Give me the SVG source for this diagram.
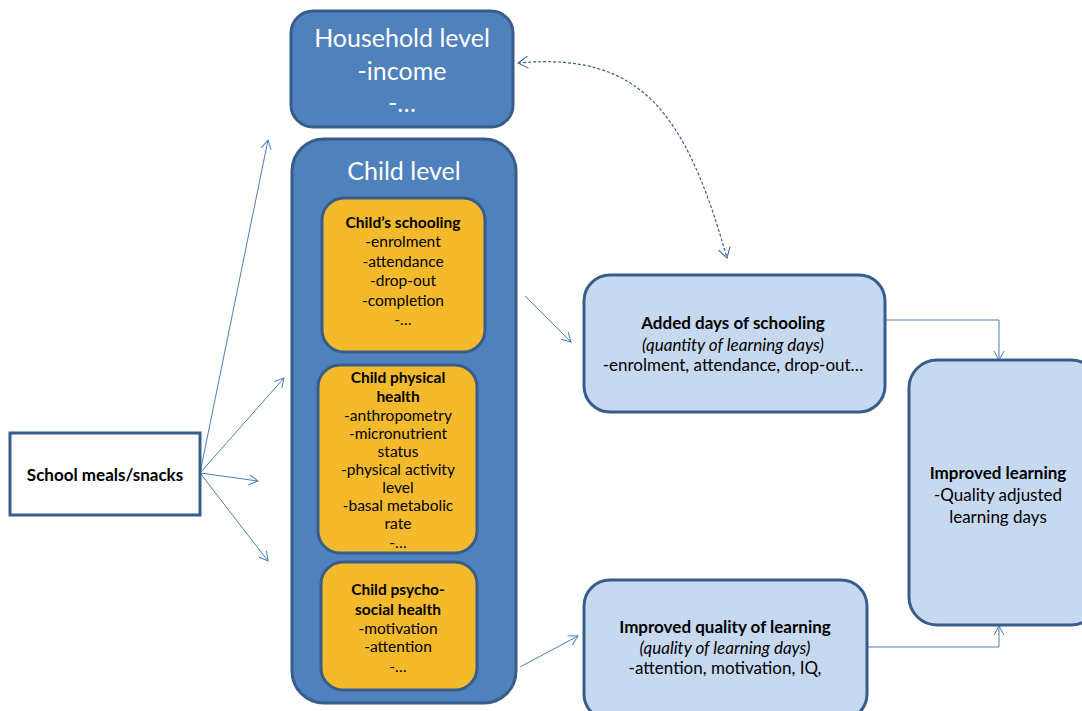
<svg xmlns="http://www.w3.org/2000/svg" width="1082" height="711" viewBox="0 0 1082 711">
<defs>
<marker id="ah" markerWidth="12" markerHeight="12" refX="10" refY="6" orient="auto-start-reverse" markerUnits="userSpaceOnUse">
<path d="M1,1 L10,6 L1,11" fill="none" stroke="#4A7EBB" stroke-width="1"/>
</marker>
<marker id="ahd" markerWidth="14" markerHeight="14" refX="11" refY="7" orient="auto-start-reverse" markerUnits="userSpaceOnUse">
<path d="M1,1 L11,7 L1,13" fill="none" stroke="#385D8A" stroke-width="1"/>
</marker>
<style>
.dark{fill:#4F81BD;stroke:#385D8A;stroke-width:3}
.orange{fill:#F4BA2B;stroke:#385D8A;stroke-width:3}
.light{fill:#C6D9F0;stroke:#385D8A;stroke-width:3}
.white{fill:#FFFFFF;stroke:#385D8A;stroke-width:3}
.conn{fill:none;stroke:#4A7EBB;stroke-width:1}
text{font-family:Lato,"Open Sans","Liberation Sans",sans-serif;text-anchor:middle;fill:#000}
.big{font-size:25px;fill:#FFFFFF}
.sm{font-size:15.5px}
.md{font-size:17px}
.b{font-weight:bold}
.i{font-style:italic}
</style>
</defs>
<g id="connectors">
<line class="conn" x1="200" y1="473" x2="268" y2="140" marker-end="url(#ah)"/>
<line class="conn" x1="200" y1="473" x2="284" y2="378" marker-end="url(#ah)"/>
<line class="conn" x1="200" y1="473" x2="258" y2="481" marker-end="url(#ah)"/>
<line class="conn" x1="200" y1="473" x2="268" y2="561" marker-end="url(#ah)"/>
<line class="conn" x1="525" y1="296" x2="571" y2="342" marker-end="url(#ah)"/>
<line class="conn" x1="520" y1="667" x2="578" y2="636" marker-end="url(#ah)"/>
<polyline class="conn" points="885,320 999,320 999,360" marker-end="url(#ah)"/>
<polyline class="conn" points="867,647 999,647 999,626" marker-end="url(#ah)"/>
<path d="M518,63 C640,52 685,110 727,258" fill="none" stroke="#385D8A" stroke-width="1.2" stroke-dasharray="3,2" marker-start="url(#ahd)" marker-end="url(#ahd)"/>
</g>
<g id="household">
<rect class="dark" x="291" y="11" width="222" height="116" rx="22"/>
<text class="big" x="402" y="47">Household level</text>
<text class="big" x="402" y="80">-income</text>
<text class="big" x="402" y="112">-…</text>
</g>
<g id="child-level">
<rect class="dark" x="292" y="139" width="224" height="564" rx="32"/>
<text class="big" x="404" y="180">Child level</text>
</g>
<g id="child-schooling">
<rect class="orange" x="322" y="198" width="163" height="154" rx="22"/>
<text class="sm b" x="403" y="228">Child’s schooling</text>
<text class="sm" x="403" y="247">-enrolment</text>
<text class="sm" x="403" y="267">-attendance</text>
<text class="sm" x="403" y="286">-drop-out</text>
<text class="sm" x="403" y="306">-completion</text>
<text class="sm" x="403" y="325">-…</text>
</g>
<g id="child-physical">
<rect class="orange" x="318" y="365" width="159" height="188" rx="22"/>
<text class="sm b" x="398" y="383">Child physical</text>
<text class="sm b" x="398" y="402">health</text>
<text class="sm" x="398" y="421">-anthropometry</text>
<text class="sm" x="398" y="439">-micronutrient</text>
<text class="sm" x="398" y="457">status</text>
<text class="sm" x="398" y="475">-physical activity</text>
<text class="sm" x="398" y="493">level</text>
<text class="sm" x="398" y="511">-basal metabolic</text>
<text class="sm" x="398" y="529">rate</text>
<text class="sm" x="398" y="548">-…</text>
</g>
<g id="child-psycho">
<rect class="orange" x="321" y="562" width="156" height="128" rx="22"/>
<text class="sm b" x="398" y="595">Child psycho-</text>
<text class="sm b" x="398" y="615">social health</text>
<text class="sm" x="398" y="634">-motivation</text>
<text class="sm" x="398" y="652">-attention</text>
<text class="sm" x="398" y="672">-…</text>
</g>
<g id="school-meals">
<rect class="white" x="10" y="433" width="190" height="82"/>
<text class="md b" x="105" y="481">School meals/snacks</text>
</g>
<g id="added-days">
<rect class="light" x="584" y="275" width="301" height="137" rx="26"/>
<text class="md b" x="733" y="329">Added days of schooling</text>
<text class="md i" x="733" y="351">(quantity of learning days)</text>
<text class="md" x="733" y="371">-enrolment, attendance, drop-out…</text>
</g>
<g id="improved-quality">
<rect class="light" x="584" y="580" width="283" height="140" rx="26"/>
<text class="md b" x="725" y="633">Improved quality of learning</text>
<text class="md i" x="725" y="654">(quality of learning days)</text>
<text class="md" x="725" y="674">-attention, motivation, IQ,</text>
</g>
<g id="improved-learning">
<rect class="light" x="909" y="360" width="190" height="265" rx="28"/>
<text class="md b" x="998" y="479">Improved learning</text>
<text class="md" x="998" y="501">-Quality adjusted</text>
<text class="md" x="998" y="523">learning days</text>
</g>
</svg>
